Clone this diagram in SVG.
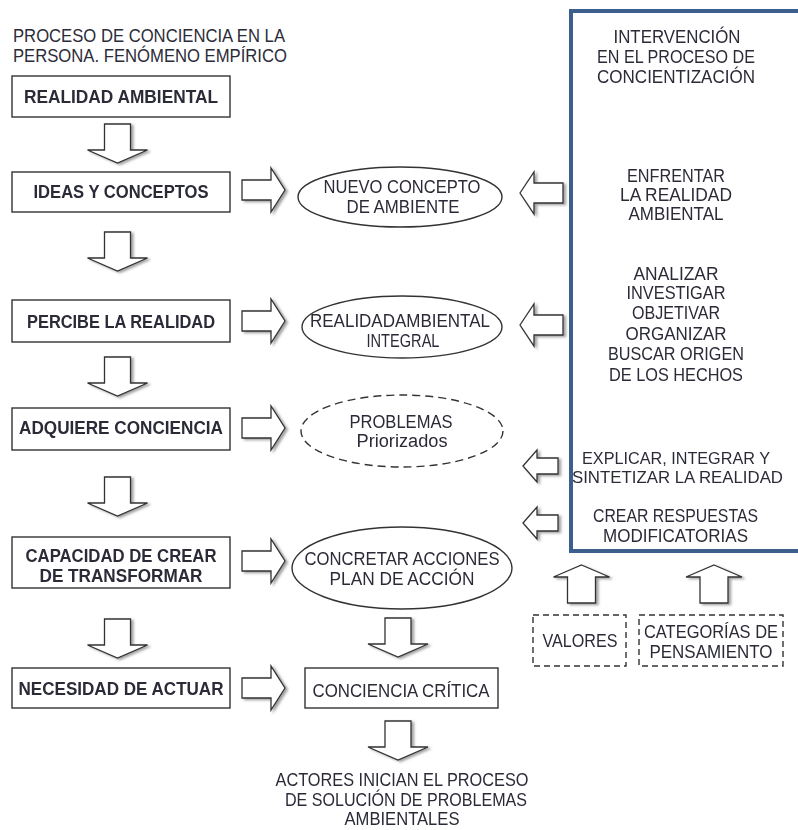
<svg xmlns="http://www.w3.org/2000/svg" width="798" height="830" viewBox="0 0 798 830">
<style>
  text { font-family: "Liberation Sans", Arial, sans-serif; font-size: 18px; fill: #2b2b38; }
  .b { font-weight: bold; }
  .c { text-anchor: middle; }
  .s { font-size: 16.5px; }
  .box { fill: #ffffff; stroke: #333333; stroke-width: 1.4; }
  .ell { fill: #ffffff; stroke: #333333; stroke-width: 1.4; }
  .dash { fill: #ffffff; stroke: #333333; stroke-width: 1.4; stroke-dasharray: 8 5; }
  .dashbox { fill: none; stroke: #333333; stroke-width: 1.4; stroke-dasharray: 6 4; }
  .arr { fill: #ffffff; stroke: #333333; stroke-width: 1.3; stroke-linejoin: miter; }
  .frame { fill: none; stroke: #3c5f8e; stroke-width: 4; }
</style>
<defs>
  <filter id="sh" x="-20%" y="-20%" width="150%" height="150%">
    <feDropShadow dx="2.5" dy="1.5" stdDeviation="1" flood-color="#555555" flood-opacity="0.55"/>
  </filter>
  <path id="aDown" class="arr" d="M-13,0 H13 V26 H30 L0,39 L-30,26 H-13 Z"/>
  <path id="aRight" class="arr" d="M0,-10 H29 V-22 L43,0 L29,22 V10 H0 Z"/>
  <path id="aLeft" class="arr" d="M0,0 L14,-21 V-10 H43 V10 H14 V21 Z"/>
  <path id="aLeftS" class="arr" d="M0,0 L14,-16 V-8 H35 V8 H14 V16 Z"/>
  <path id="aUp" class="arr" d="M0,0 L28,12 H14 V38 H-14 V12 H-28 Z"/>
</defs>

<g id="title">
  <text x="13" y="42" textLength="272" lengthAdjust="spacingAndGlyphs">PROCESO DE CONCIENCIA EN LA</text>
  <text x="13" y="62" textLength="274" lengthAdjust="spacingAndGlyphs">PERSONA. FENÓMENO EMPÍRICO</text>
</g>

<g id="connectors" filter="url(#sh)">
  <use href="#aDown" transform="translate(117.5,124)"/>
  <use href="#aDown" transform="translate(117.5,232)"/>
  <use href="#aDown" transform="translate(117.5,357)"/>
  <use href="#aDown" transform="translate(117.5,477)"/>
  <use href="#aDown" transform="translate(117.5,619)"/>
  <use href="#aDown" transform="translate(398,618)"/>
  <use href="#aDown" transform="translate(398,721)"/>
  <use href="#aRight" transform="translate(242,190)"/>
  <use href="#aRight" transform="translate(242,321)"/>
  <use href="#aRight" transform="translate(242,428)"/>
  <use href="#aRight" transform="translate(242,561)"/>
  <use href="#aRight" transform="translate(242,688)"/>
  <use href="#aLeft" transform="translate(520,193)"/>
  <use href="#aLeft" transform="translate(520,325)"/>
  <use href="#aLeftS" transform="translate(523,466)"/>
  <use href="#aLeftS" transform="translate(523,523)"/>
  <use href="#aUp" transform="translate(581.5,565)"/>
  <use href="#aUp" transform="translate(714,565)"/>
</g>

<g id="n-realidad-ambiental">
  <rect class="box" x="12" y="76" width="218" height="41"/>
  <text class="b c" x="121" y="103" textLength="194" lengthAdjust="spacingAndGlyphs">REALIDAD AMBIENTAL</text>
</g>
<g id="n-ideas">
  <rect class="box" x="12" y="172" width="218" height="40"/>
  <text class="b c" x="121" y="198" textLength="175" lengthAdjust="spacingAndGlyphs">IDEAS Y CONCEPTOS</text>
</g>
<g id="n-percibe">
  <rect class="box" x="12" y="300" width="218" height="42"/>
  <text class="b c" x="121" y="328" textLength="188" lengthAdjust="spacingAndGlyphs">PERCIBE LA REALIDAD</text>
</g>
<g id="n-adquiere">
  <rect class="box" x="12" y="408" width="218" height="42"/>
  <text class="b c" x="121" y="434" textLength="204" lengthAdjust="spacingAndGlyphs">ADQUIERE CONCIENCIA</text>
</g>
<g id="n-capacidad">
  <rect class="box" x="12" y="537" width="218" height="51"/>
  <text class="b c" x="121" y="562" textLength="191" lengthAdjust="spacingAndGlyphs">CAPACIDAD DE CREAR</text>
  <text class="b c" x="121" y="582" textLength="163" lengthAdjust="spacingAndGlyphs">DE TRANSFORMAR</text>
</g>
<g id="n-necesidad">
  <rect class="box" x="12" y="668" width="218" height="40"/>
  <text class="b c" x="121" y="695" textLength="205" lengthAdjust="spacingAndGlyphs">NECESIDAD DE ACTUAR</text>
</g>

<g id="n-nuevo-concepto">
  <ellipse class="ell" cx="400" cy="197" rx="102" ry="30"/>
  <text class="c" x="402" y="193" textLength="157" lengthAdjust="spacingAndGlyphs">NUEVO CONCEPTO</text>
  <text class="c" x="403" y="213" textLength="113" lengthAdjust="spacingAndGlyphs">DE AMBIENTE</text>
</g>
<g id="n-realidad-integral">
  <ellipse class="ell" cx="402" cy="327" rx="100" ry="31"/>
  <text class="c" x="400" y="327" textLength="180" lengthAdjust="spacingAndGlyphs">REALIDADAMBIENTAL</text>
  <text class="c" x="403" y="347" textLength="73" lengthAdjust="spacingAndGlyphs">INTEGRAL</text>
</g>
<g id="n-problemas">
  <ellipse class="dash" cx="402" cy="431" rx="101" ry="36"/>
  <text class="c" x="401" y="428" textLength="103" lengthAdjust="spacingAndGlyphs">PROBLEMAS</text>
  <text class="c" x="402" y="447" textLength="91" lengthAdjust="spacingAndGlyphs">Priorizados</text>
</g>
<g id="n-concretar">
  <ellipse class="ell" cx="402" cy="568" rx="110" ry="41"/>
  <text class="c" x="402" y="565" textLength="195" lengthAdjust="spacingAndGlyphs">CONCRETAR  ACCIONES</text>
  <text class="c" x="402" y="585" textLength="145" lengthAdjust="spacingAndGlyphs">PLAN DE ACCIÓN</text>
</g>
<g id="n-conciencia-critica">
  <rect class="box" x="305" y="668" width="193" height="40"/>
  <text class="c" x="401" y="697" textLength="177" lengthAdjust="spacingAndGlyphs">CONCIENCIA CRÍTICA</text>
</g>
<g id="n-actores">
  <text class="c" x="402" y="786" textLength="253" lengthAdjust="spacingAndGlyphs">ACTORES INICIAN EL PROCESO</text>
  <text class="c" x="406" y="806" textLength="242" lengthAdjust="spacingAndGlyphs">DE SOLUCIÓN DE PROBLEMAS</text>
  <text class="c" x="402" y="825" textLength="115" lengthAdjust="spacingAndGlyphs">AMBIENTALES</text>
</g>

<g id="n-intervencion">
  <text class="c" x="677" y="43" textLength="127" lengthAdjust="spacingAndGlyphs">INTERVENCIÓN</text>
  <text class="c" x="676" y="63" textLength="158" lengthAdjust="spacingAndGlyphs">EN EL PROCESO DE</text>
  <text class="c" x="676" y="83" textLength="158" lengthAdjust="spacingAndGlyphs">CONCIENTIZACIÓN</text>
  <text class="c" x="676" y="182" textLength="98" lengthAdjust="spacingAndGlyphs">ENFRENTAR</text>
  <text class="c" x="676" y="201" textLength="112" lengthAdjust="spacingAndGlyphs">LA REALIDAD</text>
  <text class="c" x="676" y="220" textLength="95" lengthAdjust="spacingAndGlyphs">AMBIENTAL</text>
  <text class="c" x="676" y="280" textLength="85" lengthAdjust="spacingAndGlyphs">ANALIZAR</text>
  <text class="c" x="676" y="299" textLength="99" lengthAdjust="spacingAndGlyphs">INVESTIGAR</text>
  <text class="c" x="676" y="319" textLength="88" lengthAdjust="spacingAndGlyphs">OBJETIVAR</text>
  <text class="c" x="676" y="340" textLength="101" lengthAdjust="spacingAndGlyphs">ORGANIZAR</text>
  <text class="c" x="676" y="360" textLength="136" lengthAdjust="spacingAndGlyphs">BUSCAR ORIGEN</text>
  <text class="c" x="676" y="381" textLength="134" lengthAdjust="spacingAndGlyphs">DE LOS HECHOS</text>
  <text class="c s" x="676" y="464" textLength="188" lengthAdjust="spacingAndGlyphs">EXPLICAR, INTEGRAR Y</text>
  <text class="c s" x="677.5" y="483" textLength="211" lengthAdjust="spacingAndGlyphs">SINTETIZAR LA REALIDAD</text>
  <text class="c" x="675.5" y="522" textLength="165" lengthAdjust="spacingAndGlyphs">CREAR RESPUESTAS</text>
  <text class="c" x="675.5" y="542" textLength="145" lengthAdjust="spacingAndGlyphs">MODIFICATORIAS</text>
  <rect class="frame" x="571" y="11" width="240" height="540"/>
</g>

<g id="n-valores">
  <rect class="dashbox" x="533" y="615" width="93" height="51"/>
  <text class="c" x="580" y="647" textLength="75" lengthAdjust="spacingAndGlyphs">VALORES</text>
</g>
<g id="n-categorias">
  <rect class="dashbox" x="639" y="615" width="144" height="51"/>
  <text class="c" x="711" y="638" textLength="134" lengthAdjust="spacingAndGlyphs">CATEGORÍAS DE</text>
  <text class="c" x="711" y="658" textLength="123" lengthAdjust="spacingAndGlyphs">PENSAMIENTO</text>
</g>
</svg>
